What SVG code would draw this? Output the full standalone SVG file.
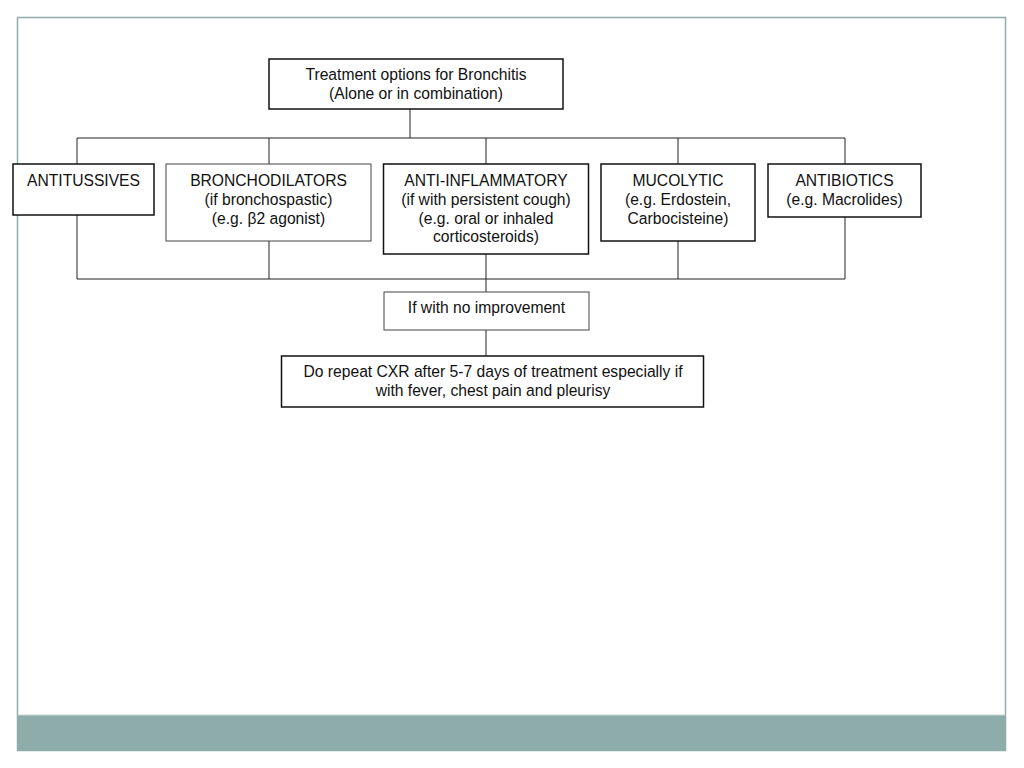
<svg xmlns="http://www.w3.org/2000/svg" width="1024" height="768" viewBox="0 0 1024 768">
<style>
text{font-family:"Liberation Sans",Arial,sans-serif;font-size:15.65px;fill:#111;text-anchor:middle}
.b{fill:#fff;stroke:#111;stroke-width:1.5}
.l{fill:#fff;stroke:#444;stroke-width:1}
.c{fill:none;stroke:#222;stroke-width:1}
</style>
<rect x="0" y="0" width="1024" height="768" fill="#fff"/>
<g id="frame">
<rect x="17.5" y="17.5" width="988" height="733" fill="#fff" stroke="#8eacaa" stroke-width="1.5"/>
<rect x="17.5" y="715" width="988" height="35.5" fill="#8eacaa"/>
<line x1="17.5" y1="715" x2="1005.5" y2="715" stroke="#c5d3d2" stroke-width="1"/>
</g>
<g id="connectors">
<path class="c" d="M410 109V138M77 138H845M77 138V164M269 138V164M486 138V164M678 138V164M845 138V164"/>
<path class="c" d="M77 215V279M269 241V279M486 254V292M678 241V279M845 217V279M77 279H845M486 330V356"/>
</g>
<g id="root"><rect class="b" x="269" y="59" width="294" height="50"/><text x="416" y="80">Treatment options for Bronchitis</text><text x="416" y="99">(Alone or in combination)</text></g>
<g id="antitussives"><rect class="b" x="13" y="164" width="141" height="51"/><text x="83.5" y="186">ANTITUSSIVES</text></g>
<g id="bronchodilators"><rect class="l" x="166" y="164" width="205" height="77"/><text x="268.5" y="186">BRONCHODILATORS</text><text x="268.5" y="205">(if bronchospastic)</text><text x="268.5" y="223.5">(e.g. β2 agonist)</text></g>
<g id="antiinflammatory"><rect class="b" x="383.5" y="164" width="205" height="90"/><text x="486" y="186">ANTI-INFLAMMATORY</text><text x="486" y="205">(if with persistent cough)</text><text x="486" y="223.5">(e.g. oral or inhaled</text><text x="486" y="242">corticosteroids)</text></g>
<g id="mucolytic"><rect class="b" x="601" y="164" width="154" height="77"/><text x="678" y="186">MUCOLYTIC</text><text x="678" y="205">(e.g. Erdostein,</text><text x="678" y="223.5">Carbocisteine)</text></g>
<g id="antibiotics"><rect class="b" x="768" y="164" width="153" height="53"/><text x="844.5" y="186">ANTIBIOTICS</text><text x="844.5" y="205">(e.g. Macrolides)</text></g>
<g id="noimprovement"><rect class="l" x="384" y="292" width="205" height="38"/><text x="486.5" y="313">If with no improvement</text></g>
<g id="repeatcxr"><rect class="b" x="281.5" y="356" width="422" height="51"/><text x="493" y="377">Do repeat CXR after 5-7 days of treatment especially if</text><text x="493" y="396">with fever, chest pain and pleurisy</text></g>
</svg>
